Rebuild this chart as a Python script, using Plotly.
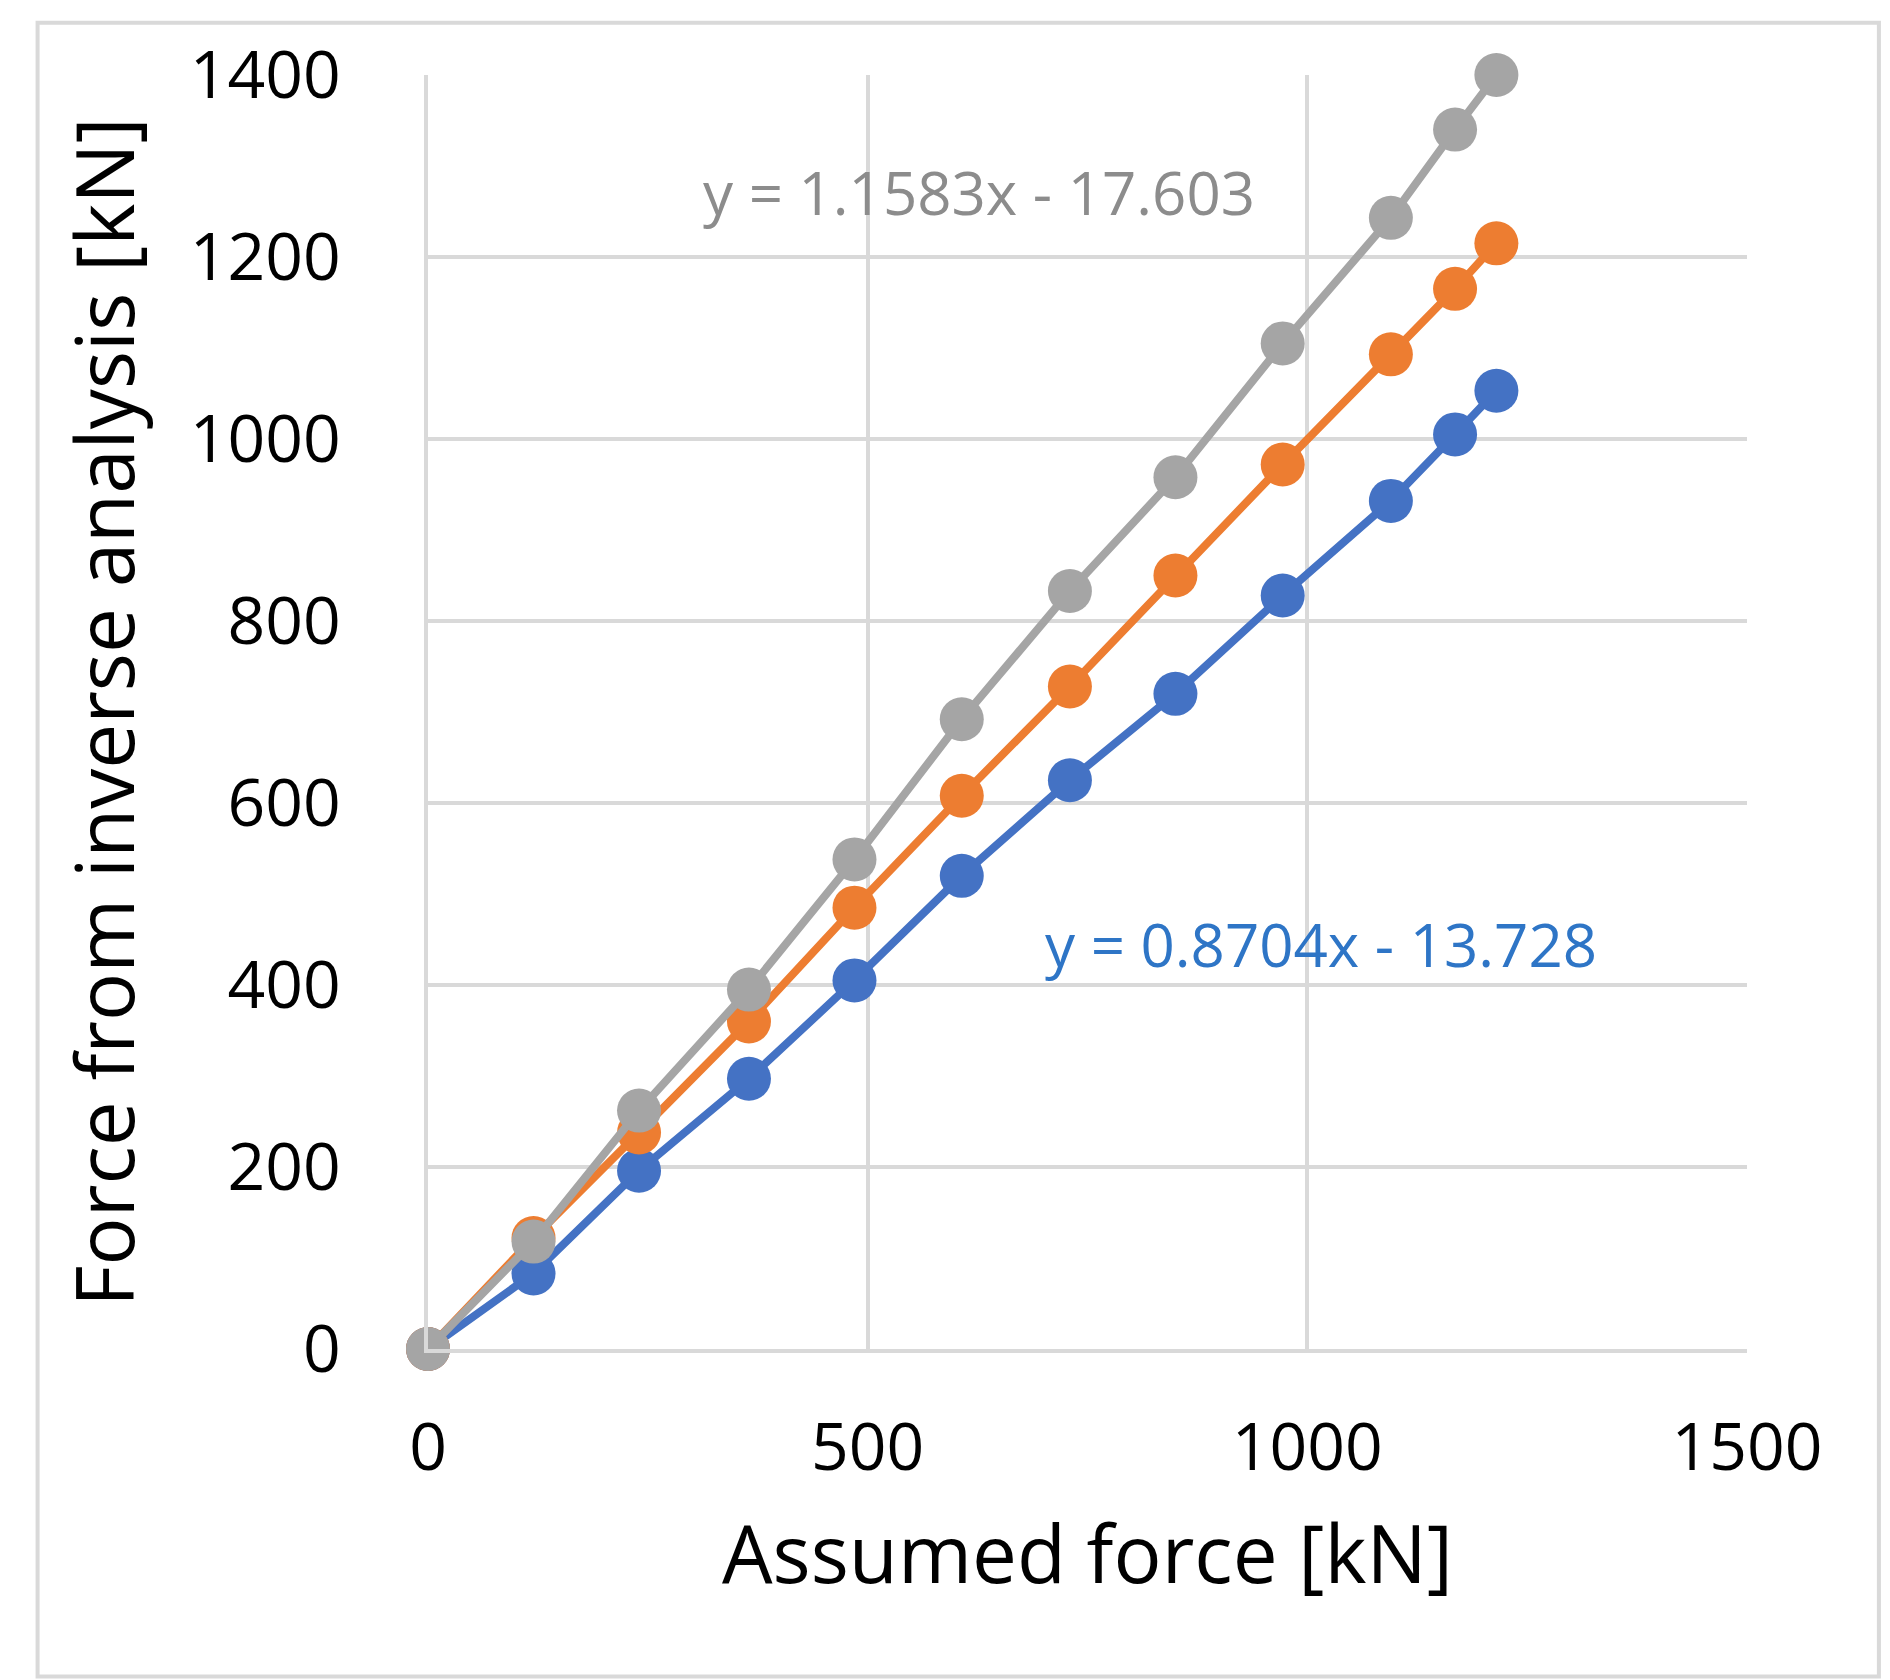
import plotly.graph_objects as go

x_vals = [0, 120, 240, 365, 485, 607, 730, 850, 972, 1095, 1168, 1215]
blue_vals = [0, 83, 196, 297, 405, 520, 625, 720, 828, 932, 1005, 1053]
orange_vals = [0, 122, 238, 360, 485, 608, 728, 850, 972, 1093, 1165, 1215]
gray_vals = [0, 118, 262, 395, 538, 692, 833, 958, 1105, 1243, 1340, 1400]
x_ticks = [0, 500, 1000, 1500]
y_ticks = [0, 200, 400, 600, 800, 1000, 1200, 1400]

font = "Open Sans"
fig = go.Figure()
for vals, col in [(blue_vals, "#4472C4"), (orange_vals, "#ED7D31"), (gray_vals, "#A5A5A5")]:
    fig.add_trace(go.Scatter(x=x_vals, y=vals, mode="lines+markers",
                             line=dict(color=col, width=8),
                             marker=dict(color=col, size=44), showlegend=False, cliponaxis=False))

fig.add_annotation(x=627, y=1271, text="y = 1.1583x - 17.603", showarrow=False,
                   font=dict(family=font, size=60, color="#8C8C8C"))
fig.add_annotation(x=1016, y=445, text="y = 0.8704x - 13.728", showarrow=False,
                   font=dict(family=font, size=60, color="#2E75C6"))

axis_common = dict(showgrid=True, gridcolor="#D9D9D9", gridwidth=4, zeroline=False,
                   showline=True, linecolor="#D9D9D9", linewidth=4, mirror=False,
                   ticks="outside", tickcolor="rgba(0,0,0,0)",
                   tickfont=dict(family=font, size=66, color="black"))
fig.update_xaxes(range=[0, 1500], tickvals=x_ticks, ticklen=38,
                 title=dict(text="Assumed force [kN]",
                 font=dict(family=font, size=80, color="black"), standoff=40), **axis_common)
fig.update_yaxes(range=[0, 1400], tickvals=y_ticks, ticklen=70,
                 title=dict(text="Force from inverse analysis [kN]",
                 font=dict(family=font, size=80, color="black"), standoff=30), **axis_common)

fig.update_layout(width=1890, height=1680, plot_bgcolor="white", paper_bgcolor="white",
                  margin=dict(l=420, r=151, t=67, b=339), font=dict(family=font),
                  shapes=[dict(type="rect", xref="paper", yref="paper", x0=-0.296, x1=1.10,
                               y0=-0.257, y1=1.041, line=dict(color="#D9D9D9", width=4))])
fig.write_html("out.html")
